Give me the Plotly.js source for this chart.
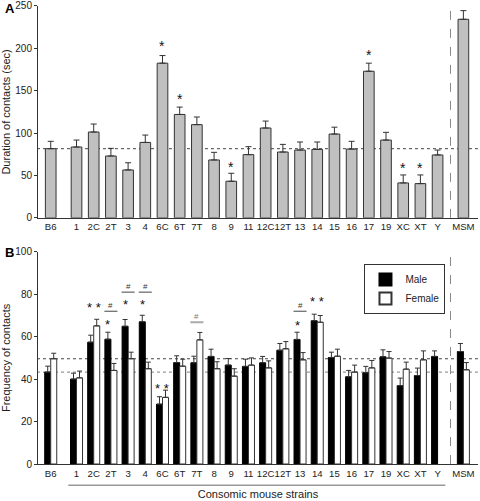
<!DOCTYPE html>
<html>
<head>
<meta charset="utf-8">
<script src="https://cdn.plot.ly/plotly-3.0.1.min.js"></script>
<style>html,body{margin:0;padding:0;background:#fff;}#chart{width:480px;height:501px;}</style>
</head>
<body>
<div id="chart"></div>
<script>
// ---------- data ----------
const consomic = ['1','2C','2T','3','4','6C','6T','7T','8','9','11','12C','12T','13','14','15','16','17','19','XC','XT','Y'];
const strains = ['B6'].concat(consomic, ['MSM']);

// Panel A: duration of contacts (sec)
const durationMean = [81.6, 83.6, 101.3, 73, 56.5, 89, 182.5, 122, 110, 68.3, 43.2, 74.6, 106, 77.7, 80, 80.8, 98.9, 81.2, 173, 91.8, 41.2, 40.4, 74.2, 234.3];
const durationSEM  = [8.7, 8.2, 9.4, 9, 8.5, 8.7, 9, 8.7, 9, 9, 9.4, 9.4, 8.2, 9, 9.5, 8.7, 8.1, 9.1, 9.5, 9.1, 9.4, 10.2, 5.8, 10.2];

// Panel B: frequency of contacts
const maleMean   = [43.3, 40, 57.4, 58.8, 64.9, 67, 28.2, 47.8, 47.7, 50.7, 46.6, 46, 47.7, 53.6, 58.7, 67.5, 50.2, 41.1, 43, 50.5, 36.9, 41.7, 50.7, 53];
const maleSEM    = [2.8, 2.8, 3.3, 3.3, 3.2, 3.1, 3.5, 3.2, 3.1, 3.4, 3.1, 3.4, 3, 3.2, 3.4, 3.1, 2.5, 3, 3, 3.3, 3.6, 3.5, 2.6, 3.8];
const femaleMean = [49.6, 40.6, 65.1, 44.1, 49.6, 44.9, 31.4, 46.1, 58.5, 44.9, 41.4, 46.6, 45.3, 54.3, 49.1, 66.8, 50.8, 43.3, 45.3, 49.9, 44.7, 49.1, null, 44.4];
const femaleSEM  = [2.6, 3.2, 3.1, 3.3, 3.1, 3.1, 3.4, 3.3, 3.5, 3.3, 3.5, 3.4, 3.3, 3.4, 3.4, 3.2, 3.3, 3.3, 3.5, 3.1, 3.3, 4.2, null, 3.4];

// significance marks
const starsA = [['6C', 208], ['6T', 145], ['9', 65], ['17', 197], ['XC', 64], ['XT', 64]];
const starsB = [['2C', 'both', 75.5], ['2T', 'male', 67.6], ['3', 'male', 77], ['4', 'male', 77], ['6C', 'both', 37.3], ['13', 'male', 67.3], ['14', 'both', 78.4]];
const hashB  = [['2T', 72], ['3', 81], ['4', 81], ['7T', 66.8], ['13', 72]];
const hashGray = ['7T'];

// ---------- helpers ----------
function xOf(name) {
  if (name === 'B6') return -1.5;
  if (name === 'MSM') return consomic.length + 0.5;
  return consomic.indexOf(name);
}
const xs = strains.map(xOf);
const sepX = consomic.length - 0.25;
const FONT = '"Liberation Sans", Arial, Helvetica, sans-serif';
const INK = '#222';

const traces = [
  {
    type: 'bar', x: xs, y: durationMean, width: 0.62,
    marker: {color: '#c0c0c0', line: {color: '#333', width: 1}},
    error_y: {type: 'data', array: durationSEM, arrayminus: durationSEM.map(() => 0), symmetric: false, color: '#333', thickness: 1, width: 3},
    xaxis: 'x', yaxis: 'y', showlegend: false, name: 'Duration'
  },
  {
    type: 'bar', x: xs, y: maleMean, width: 0.35, offset: -0.35,
    marker: {color: '#000', line: {color: '#000', width: 1}},
    error_y: {type: 'data', array: maleSEM, arrayminus: maleSEM.map(() => 0), symmetric: false, color: '#333', thickness: 1, width: 2.5},
    xaxis: 'x2', yaxis: 'y2', name: 'Male'
  },
  {
    type: 'bar', x: xs, y: femaleMean, width: 0.35, offset: 0,
    marker: {color: '#fff', line: {color: '#333', width: 1}},
    error_y: {type: 'data', array: femaleSEM, arrayminus: femaleSEM.map(v => v === null ? null : 0), symmetric: false, color: '#333', thickness: 1, width: 2.5},
    xaxis: 'x2', yaxis: 'y2', name: 'Female'
  }
];

const shapes = [
  {type: 'line', xref: 'x', yref: 'y', x0: -2.3, x1: 23.4, y0: durationMean[0], y1: durationMean[0], line: {color: '#444', width: 1, dash: 'dot'}, layer: 'below'},
  {type: 'line', xref: 'x2', yref: 'y2', x0: -2.3, x1: 23.4, y0: femaleMean[0], y1: femaleMean[0], line: {color: '#444', width: 1, dash: 'dot'}, layer: 'below'},
  {type: 'line', xref: 'x2', yref: 'y2', x0: -2.3, x1: 23.4, y0: maleMean[0], y1: maleMean[0], line: {color: '#999', width: 1.3, dash: 'dot'}, layer: 'below'},
  {type: 'line', xref: 'x', yref: 'y domain', x0: sepX, x1: sepX, y0: 0, y1: 1, line: {color: '#888', width: 1, dash: 'dash'}},
  {type: 'line', xref: 'x2', yref: 'y2 domain', x0: sepX, x1: sepX, y0: 0, y1: 1, line: {color: '#888', width: 1, dash: 'dash'}},
  {type: 'line', xref: 'x2', yref: 'paper', x0: -0.48, x1: 21.45, y0: -0.046, y1: -0.046, line: {color: '#999', width: 1.5}}
];
hashB.forEach(([s, y]) => {
  const gray = hashGray.includes(s);
  shapes.push({type: 'line', xref: 'x2', yref: 'y2', x0: xOf(s) - 0.38, x1: xOf(s) + 0.38, y0: y, y1: y,
    line: {color: gray ? '#aaa' : '#444', width: gray ? 2 : 1}});
});

const annotations = [
  {text: '<b>A</b>', xref: 'paper', yref: 'paper', x: -0.08, y: 0.981, xanchor: 'left', yanchor: 'middle', showarrow: false, font: {size: 13, color: '#000', family: FONT}},
  {text: '<b>B</b>', xref: 'paper', yref: 'paper', x: -0.08, y: 0.455, xanchor: 'left', yanchor: 'middle', showarrow: false, font: {size: 13, color: '#000', family: FONT}}
];
starsA.forEach(([s, y]) => annotations.push({text: '*', xref: 'x', yref: 'y', x: xOf(s), y: y, yshift: -4, showarrow: false, font: {size: 14, color: '#111', family: FONT}}));
starsB.forEach(([s, which, y]) => annotations.push({
  text: which === 'both' ? '* *' : '*', xref: 'x2', yref: 'y2',
  x: which === 'both' ? xOf(s) : xOf(s) - 0.175, y: y, yshift: -4, showarrow: false, font: {size: 13, color: '#111', family: FONT}}));
hashB.forEach(([s, y]) => annotations.push({text: '#', xref: 'x2', yref: 'y2', x: xOf(s), y: y + 2.6, showarrow: false, font: {size: 8, color: hashGray.includes(s) ? '#777' : '#333', family: FONT}}));

const xCommon = {
  range: [-2.24, 23.35], tickmode: 'array', tickvals: xs, ticktext: strains, tickangle: 0,
  ticks: '', showline: true, linecolor: '#333', linewidth: 1, showgrid: false, zeroline: false,
  tickfont: {size: 9.6, color: INK, family: FONT}, fixedrange: true
};
const yCommon = {
  ticks: 'outside', ticklen: 3, tickcolor: '#333', showline: true, linecolor: '#333', linewidth: 1,
  showgrid: false, zeroline: false, tickfont: {size: 10, color: INK, family: FONT}
};

const layout = {
  width: 480, height: 501,
  margin: {l: 38, r: 2, t: 0, b: 36.7},
  paper_bgcolor: '#fff', plot_bgcolor: '#fff',
  font: {family: FONT, color: INK},
  barmode: 'overlay',
  xaxis: Object.assign({}, xCommon, {anchor: 'y', domain: [0, 1]}),
  yaxis: Object.assign({}, yCommon, {domain: [0.5305, 0.9871], range: [0, 250], dtick: 50, anchor: 'x',
    title: {text: 'Duration of contacts (sec)', font: {size: 11, color: INK, family: FONT}, standoff: 4}}),
  xaxis2: Object.assign({}, xCommon, {anchor: 'y2', domain: [0, 1],
    title: {text: 'Consomic mouse strains', font: {size: 11, color: INK, family: FONT}, standoff: 12}}),
  yaxis2: Object.assign({}, yCommon, {domain: [0, 0.4573], range: [0, 100], dtick: 20, anchor: 'x2',
    title: {text: 'Frequency of contacts', font: {size: 11, color: INK, family: FONT}, standoff: 4}}),
  legend: {x: 0.742, y: 0.431, xanchor: 'left', yanchor: 'top', bordercolor: '#333', borderwidth: 1, bgcolor: '#fff',
    font: {size: 10, color: INK, family: FONT}, tracegroupgap: 0, itemwidth: 30,
    traceorder: 'normal', itemsizing: 'constant'},
  shapes: shapes,
  annotations: annotations
};

Plotly.newPlot('chart', traces, layout, {displayModeBar: false, staticPlot: true});
</script>
</body>
</html>
